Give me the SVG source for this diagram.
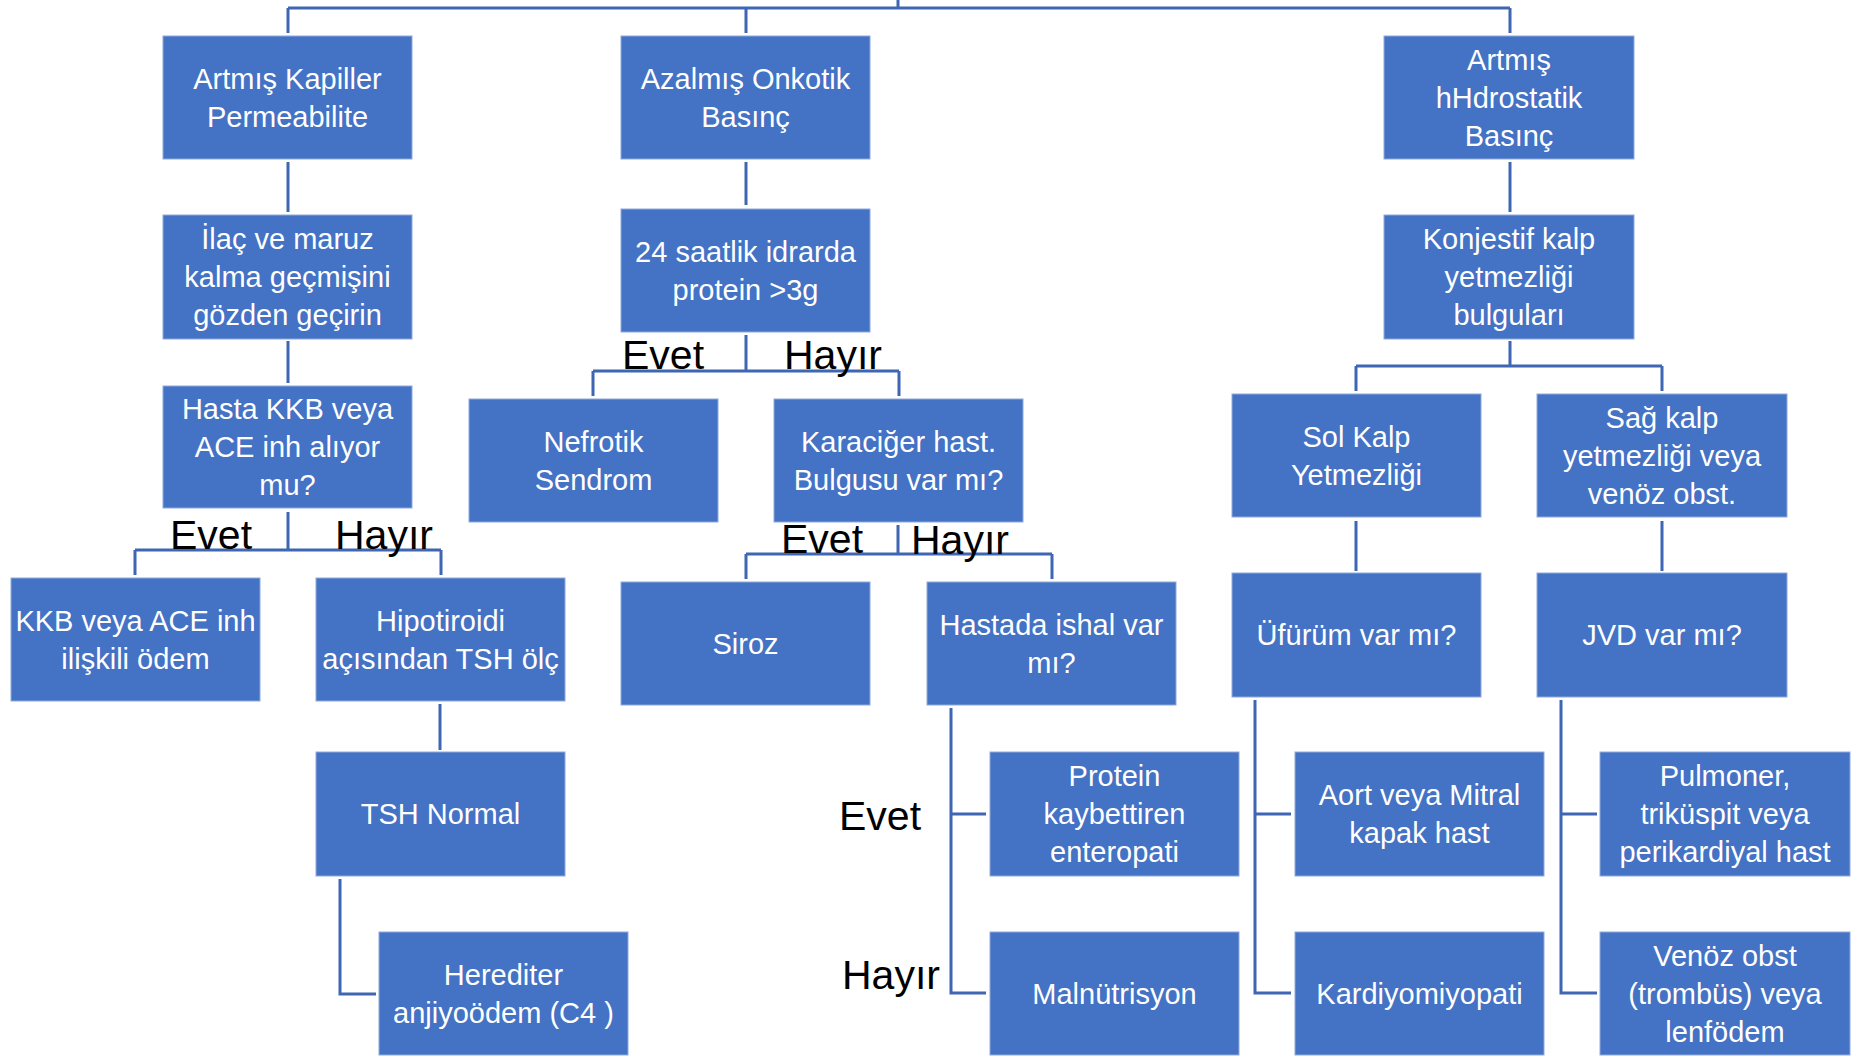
<svg xmlns="http://www.w3.org/2000/svg" width="1852" height="1056" viewBox="0 0 1852 1056">
<style>
.box{fill:#4472C4;stroke:#8FAADC;stroke-width:1}
.t{font-family:"Liberation Sans",Arial,sans-serif;font-size:29px;fill:#fff;text-anchor:middle}
.lbl{font-family:"Liberation Sans",Arial,sans-serif;font-size:41px;fill:#000}
.c{fill:none;stroke:#3F66B3;stroke-width:3}
</style>
<rect width="1852" height="1056" fill="#fff"/>
<g id="connectors">
<path class="c" d="M898,0V8M288,8H1510M288,8V33M746,8V33M1510,8V33"/>
<path class="c" d="M288,162V212M288,341V383"/>
<path class="c" d="M288,512V550M135,550H441M135,550V575M441,550V575"/>
<path class="c" d="M440,704V750"/>
<path class="c" d="M340,879V994H376"/>
<path class="c" d="M746,162V205"/>
<path class="c" d="M746,335V371M593,371H899M593,371V396M899,371V396"/>
<path class="c" d="M898,525V554M746,554H1052M746,554V579M1052,554V579"/>
<path class="c" d="M951,708V993H986M951,814H986"/>
<path class="c" d="M1510,162V212"/>
<path class="c" d="M1510,341V366M1356,366H1662M1356,366V391M1662,366V391"/>
<path class="c" d="M1356,521V571M1662,521V571"/>
<path class="c" d="M1255,700V993H1291M1255,814H1291"/>
<path class="c" d="M1561,700V993H1597M1561,814H1597"/>
</g>
<g id="labels">
<text class="lbl" x="170" y="549">Evet</text>
<text class="lbl" x="335" y="549">Hayır</text>
<text class="lbl" x="622" y="369">Evet</text>
<text class="lbl" x="784" y="369">Hayır</text>
<text class="lbl" x="781" y="553">Evet</text>
<text class="lbl" x="911" y="554">Hayır</text>
<text class="lbl" x="839" y="830">Evet</text>
<text class="lbl" x="842" y="989">Hayır</text>
</g>
<g id="kapiller"><rect class="box" x="163" y="36" width="249" height="123"/><text class="t" x="287.5" y="88.5">Artmış Kapiller</text><text class="t" x="287.5" y="126.5">Permeabilite</text></g>
<g id="ilac"><rect class="box" x="163" y="215" width="249" height="124"/><text class="t" x="287.5" y="249">İlaç ve maruz</text><text class="t" x="287.5" y="287">kalma geçmişini</text><text class="t" x="287.5" y="325">gözden geçirin</text></g>
<g id="hasta"><rect class="box" x="163" y="386" width="249" height="122"/><text class="t" x="287.5" y="419">Hasta KKB veya</text><text class="t" x="287.5" y="457">ACE inh alıyor</text><text class="t" x="287.5" y="495">mu?</text></g>
<g id="kkb"><rect class="box" x="11" y="578" width="249" height="123"/><text class="t" x="135.5" y="630.5">KKB veya ACE inh</text><text class="t" x="135.5" y="668.5">ilişkili ödem</text></g>
<g id="hipotiroidi"><rect class="box" x="316" y="578" width="249" height="123"/><text class="t" x="440.5" y="630.5">Hipotiroidi</text><text class="t" x="440.5" y="668.5">açısından TSH ölç</text></g>
<g id="tsh"><rect class="box" x="316" y="752" width="249" height="124"/><text class="t" x="440.5" y="824">TSH Normal</text></g>
<g id="herediter"><rect class="box" x="379" y="932" width="249" height="123"/><text class="t" x="503.5" y="984.5">Herediter</text><text class="t" x="503.5" y="1022.5">anjiyoödem (C4 )</text></g>
<g id="azalmis"><rect class="box" x="621" y="36" width="249" height="123"/><text class="t" x="745.5" y="88.5">Azalmış Onkotik</text><text class="t" x="745.5" y="126.5">Basınç</text></g>
<g id="saatlik"><rect class="box" x="621" y="209" width="249" height="123"/><text class="t" x="745.5" y="261.5">24 saatlik idrarda</text><text class="t" x="745.5" y="299.5">protein &gt;3g</text></g>
<g id="nefrotik"><rect class="box" x="469" y="399" width="249" height="123"/><text class="t" x="593.5" y="451.5">Nefrotik</text><text class="t" x="593.5" y="489.5">Sendrom</text></g>
<g id="karaciger"><rect class="box" x="774" y="399" width="249" height="123"/><text class="t" x="898.5" y="451.5">Karaciğer hast.</text><text class="t" x="898.5" y="489.5">Bulgusu var mı?</text></g>
<g id="siroz"><rect class="box" x="621" y="582" width="249" height="123"/><text class="t" x="745.5" y="653.5">Siroz</text></g>
<g id="ishal"><rect class="box" x="927" y="582" width="249" height="123"/><text class="t" x="1051.5" y="634.5">Hastada ishal var</text><text class="t" x="1051.5" y="672.5">mı?</text></g>
<g id="protein"><rect class="box" x="990" y="752" width="249" height="124"/><text class="t" x="1114.5" y="786">Protein</text><text class="t" x="1114.5" y="824">kaybettiren</text><text class="t" x="1114.5" y="862">enteropati</text></g>
<g id="malnutrisyon"><rect class="box" x="990" y="932" width="249" height="123"/><text class="t" x="1114.5" y="1003.5">Malnütrisyon</text></g>
<g id="hidrostatik"><rect class="box" x="1384" y="36" width="250" height="123"/><text class="t" x="1509" y="69.5">Artmış</text><text class="t" x="1509" y="107.5">hHdrostatik</text><text class="t" x="1509" y="145.5">Basınç</text></g>
<g id="konjestif"><rect class="box" x="1384" y="215" width="250" height="124"/><text class="t" x="1509" y="249">Konjestif kalp</text><text class="t" x="1509" y="287">yetmezliği</text><text class="t" x="1509" y="325">bulguları</text></g>
<g id="sol"><rect class="box" x="1232" y="394" width="249" height="123"/><text class="t" x="1356.5" y="446.5">Sol Kalp</text><text class="t" x="1356.5" y="484.5">Yetmezliği</text></g>
<g id="sag"><rect class="box" x="1537" y="394" width="250" height="123"/><text class="t" x="1662" y="427.5">Sağ kalp</text><text class="t" x="1662" y="465.5">yetmezliği veya</text><text class="t" x="1662" y="503.5">venöz obst.</text></g>
<g id="ufurum"><rect class="box" x="1232" y="573" width="249" height="124"/><text class="t" x="1356.5" y="645">Üfürüm var mı?</text></g>
<g id="jvd"><rect class="box" x="1537" y="573" width="250" height="124"/><text class="t" x="1662" y="645">JVD var mı?</text></g>
<g id="aort"><rect class="box" x="1295" y="752" width="249" height="124"/><text class="t" x="1419.5" y="805">Aort veya Mitral</text><text class="t" x="1419.5" y="843">kapak hast</text></g>
<g id="kardiyomiyopati"><rect class="box" x="1295" y="932" width="249" height="123"/><text class="t" x="1419.5" y="1003.5">Kardiyomiyopati</text></g>
<g id="pulmoner"><rect class="box" x="1600" y="752" width="250" height="124"/><text class="t" x="1725" y="786">Pulmoner,</text><text class="t" x="1725" y="824">triküspit veya</text><text class="t" x="1725" y="862">perikardiyal hast</text></g>
<g id="venoz"><rect class="box" x="1600" y="932" width="250" height="123"/><text class="t" x="1725" y="965.5">Venöz obst</text><text class="t" x="1725" y="1003.5">(trombüs) veya</text><text class="t" x="1725" y="1041.5">lenfödem</text></g>
</svg>
